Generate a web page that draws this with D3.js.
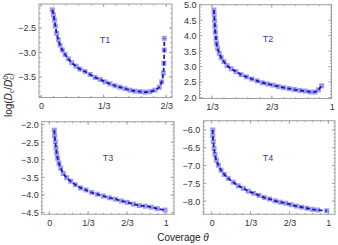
<!DOCTYPE html>
<html>
<head>
<meta charset="utf-8">
<script src="https://cdn.jsdelivr.net/npm/d3@7"></script>
<style>
  body { margin: 0; background: #fff; }
  svg { display: block; font-family: "Liberation Sans", Arial, sans-serif; }
</style>
</head>
<body>
<div id="chart"></div>
<script>
// coverage values and log(Dc/Dc0) for each panel
var t1X = [0.060, 0.066, 0.071, 0.076, 0.083, 0.092, 0.101, 0.113, 0.128, 0.145, 0.163, 0.186, 0.207, 0.234, 0.261, 0.287, 0.314, 0.340, 0.367, 0.394, 0.420, 0.447, 0.473, 0.500, 0.527, 0.553, 0.580, 0.606, 0.629, 0.642, 0.651, 0.654, 0.656, 0.656];
var t1Y = [-2.13, -2.23, -2.34, -2.46, -2.61, -2.74, -2.85, -2.95, -3.04, -3.13, -3.21, -3.28, -3.34, -3.39, -3.45, -3.51, -3.55, -3.60, -3.64, -3.68, -3.71, -3.74, -3.77, -3.79, -3.80, -3.81, -3.80, -3.77, -3.71, -3.60, -3.42, -3.22, -2.95, -2.71];

var t2X = [0.344, 0.346, 0.348, 0.350, 0.352, 0.356, 0.359, 0.365, 0.374, 0.385, 0.400, 0.418, 0.441, 0.467, 0.496, 0.526, 0.556, 0.585, 0.614, 0.644, 0.674, 0.703, 0.733, 0.763, 0.792, 0.822, 0.852, 0.881, 0.907, 0.926, 0.944];
var t2Y = [4.83, 4.67, 4.48, 4.29, 4.11, 3.92, 3.75, 3.59, 3.43, 3.29, 3.16, 3.03, 2.93, 2.84, 2.74, 2.67, 2.60, 2.54, 2.48, 2.44, 2.40, 2.36, 2.32, 2.29, 2.26, 2.23, 2.21, 2.18, 2.18, 2.25, 2.38];

var t3X = [0.043, 0.046, 0.052, 0.058, 0.064, 0.072, 0.083, 0.098, 0.120, 0.149, 0.184, 0.224, 0.269, 0.315, 0.364, 0.412, 0.464, 0.515, 0.567, 0.619, 0.670, 0.722, 0.773, 0.825, 0.876, 0.928, 0.994];
var t3Y = [-2.16, -2.32, -2.49, -2.66, -2.82, -2.96, -3.10, -3.24, -3.39, -3.51, -3.61, -3.71, -3.80, -3.86, -3.93, -3.98, -4.03, -4.08, -4.12, -4.17, -4.21, -4.26, -4.30, -4.32, -4.35, -4.39, -4.43];

var t4X = [0.009, 0.009, 0.014, 0.020, 0.028, 0.040, 0.057, 0.080, 0.108, 0.142, 0.185, 0.228, 0.271, 0.314, 0.360, 0.406, 0.451, 0.497, 0.543, 0.588, 0.635, 0.680, 0.726, 0.772, 0.817, 0.863, 0.909, 0.986];
var t4Y = [-6.00, -6.16, -6.33, -6.52, -6.69, -6.85, -6.99, -7.13, -7.25, -7.36, -7.47, -7.57, -7.64, -7.72, -7.78, -7.84, -7.90, -7.94, -7.99, -8.03, -8.06, -8.10, -8.14, -8.17, -8.20, -8.23, -8.25, -8.27];

var xTicksT1 = [0, 1/3, 2/3];
var xTicksT2 = [1/3, 2/3, 1];
var xTicksAll = [0, 1/3, 2/3, 1];
var xTickNames = {"0": "0", "0.333": "1/3", "0.667": "2/3", "1": "1"};
var yTicksT1 = [-2.5, -3.0, -3.5];
var yTicksT2 = [2.0, 2.5, 3.0, 3.5, 4.0, 4.5, 5.0];
var yTicksT3 = [-2.0, -2.5, -3.0, -3.5, -4.0, -4.5];
var yTicksT4 = [-6.0, -6.5, -7.0, -7.5, -8.0];
var panelNames = ["T1", "T2", "T3", "T4"];

var width = 338, height = 245;
var frameColor = "#a0a0a0";
var markerColor = "rgba(120,120,250,0.75)";
var lineColor = "#1a1a9a";

var svg = d3.select("#chart").append("svg")
    .attr("width", width)
    .attr("height", height);

function fmtX(v) {
    var k = (Math.round(v * 1000) / 1000).toString();
    return xTickNames[k] || k;
}
function fmtY(v) {
    return d3.format(".1f")(v).replace("-", "\u2212");
}
function minorsBetween(ticks, n, dom) {
    var step = (ticks[1] - ticks[0]) / (n + 1);
    var out = [];
    var lo = Math.min(dom[0], dom[1]), hi = Math.max(dom[0], dom[1]);
    for (var v = ticks[0] - step * 20; v <= hi; v += step) {
        if (v >= lo && v <= hi) out.push(v);
    }
    return out;
}

function drawPanel(p) {
    var x = d3.scaleLinear().domain(p.xDom).range([p.left, p.right]);
    var y = d3.scaleLinear().domain(p.yDom).range([p.bottom, p.top]);
    var g = svg.append("g");

    // frame
    g.append("rect")
        .attr("x", p.left).attr("y", p.top)
        .attr("width", p.right - p.left).attr("height", p.bottom - p.top)
        .attr("fill", "none").attr("stroke", frameColor).attr("stroke-width", 1);

    // minor ticks
    var xMin = minorsBetween(p.xTicks, 4, p.xDom);
    var yMin = minorsBetween(p.yTicks.slice().sort(d3.ascending), 4, p.yDom);
    xMin.forEach(function (v) {
        g.append("line").attr("x1", x(v)).attr("x2", x(v)).attr("y1", p.bottom).attr("y2", p.bottom - 1.5).attr("stroke", frameColor);
        g.append("line").attr("x1", x(v)).attr("x2", x(v)).attr("y1", p.top).attr("y2", p.top + 1.5).attr("stroke", frameColor);
    });
    yMin.forEach(function (v) {
        g.append("line").attr("x1", p.left).attr("x2", p.left + 1.5).attr("y1", y(v)).attr("y2", y(v)).attr("stroke", frameColor);
        g.append("line").attr("x1", p.right).attr("x2", p.right - 1.5).attr("y1", y(v)).attr("y2", y(v)).attr("stroke", frameColor);
    });

    // bottom axis
    var bottomAxis = d3.axisBottom(x).tickValues(p.xTicks).tickSize(0).tickPadding(5).tickFormat(fmtX);
    var ba = g.append("g").attr("transform", "translate(0," + p.bottom + ")").call(bottomAxis);
    ba.select(".domain").remove();
    ba.selectAll("text").attr("fill", "#333").style("font-size", "9px");
    p.xTicks.forEach(function (v) {
        g.append("line").attr("x1", x(v)).attr("x2", x(v)).attr("y1", p.bottom).attr("y2", p.bottom - 3).attr("stroke", frameColor);
        g.append("line").attr("x1", x(v)).attr("x2", x(v)).attr("y1", p.top).attr("y2", p.top + 3).attr("stroke", frameColor);
    });

    // left axis
    var leftAxis = d3.axisLeft(y).tickValues(p.yTicks).tickSize(0).tickPadding(3).tickFormat(fmtY);
    var la = g.append("g").attr("transform", "translate(" + p.left + ",0)").call(leftAxis);
    la.select(".domain").remove();
    la.selectAll("text").attr("fill", "#333").style("font-size", "9px");
    p.yTicks.forEach(function (v) {
        g.append("line").attr("x1", p.left).attr("x2", p.left + 3).attr("y1", y(v)).attr("y2", y(v)).attr("stroke", frameColor);
        g.append("line").attr("x1", p.right).attr("x2", p.right - 3).attr("y1", y(v)).attr("y2", y(v)).attr("stroke", frameColor);
    });

    var pts = p.xs.map(function (v, i) { return [v, p.ys[i]]; });

    // markers
    g.selectAll(".pt").data(pts).enter().append("rect")
        .attr("class", "pt")
        .attr("x", function (d) { return x(d[0]) - 2.5; })
        .attr("y", function (d) { return y(d[1]) - 2.5; })
        .attr("width", 5).attr("height", 5)
        .attr("fill", markerColor);

    // dashed line
    var line = d3.line()
        .x(function (d) { return x(d[0]); })
        .y(function (d) { return y(d[1]); })
        .curve(d3.curveMonotoneX);
    g.append("path")
        .datum(pts)
        .attr("d", d3.line().x(function (d) { return x(d[0]); }).y(function (d) { return y(d[1]); }).curve(d3.curveCatmullRom))
        .attr("fill", "none")
        .attr("stroke", lineColor)
        .attr("stroke-width", 1.8)
        .attr("stroke-dasharray", "4,2.5");

    g.append("text")
        .attr("x", p.labelX).attr("y", p.labelY)
        .attr("text-anchor", "middle")
        .attr("fill", "#3a3aa8")
        .style("font-size", "9px")
        .text(p.name);
}

var panels = [
    { name: panelNames[0], xs: t1X, ys: t1Y, xTicks: xTicksT1, yTicks: yTicksT1,
      left: 39, right: 172, top: 4, bottom: 97.5, xDom: [-0.011, 0.697], yDom: [-3.92, -2.01], labelX: 105, labelY: 43 },
    { name: panelNames[1], xs: t2X, ys: t2Y, xTicks: xTicksT2, yTicks: yTicksT2,
      left: 199.5, right: 331.5, top: 4.7, bottom: 98.5, xDom: [0.264, 0.999], yDom: [1.97, 5.0], labelX: 268, labelY: 42 },
    { name: panelNames[2], xs: t3X, ys: t3Y, xTicks: xTicksAll, yTicks: yTicksT3,
      left: 41.7, right: 174, top: 121.7, bottom: 214.3, xDom: [-0.065, 1.071], yDom: [-4.55, -1.92], labelX: 108, labelY: 161 },
    { name: panelNames[3], xs: t4X, ys: t4Y, xTicks: xTicksAll, yTicks: yTicksT4,
      left: 203.3, right: 335, top: 120.7, bottom: 214.3, xDom: [-0.072, 1.057], yDom: [-8.37, -5.74], labelX: 268, labelY: 161 }
];

panels.forEach(drawPanel);

// axis titles
var yTitle = svg.append("text")
    .attr("transform", "translate(12,95) rotate(-90)")
    .attr("text-anchor", "middle")
    .attr("fill", "#222")
    .style("font-size", "10px");
yTitle.append("tspan").text("log(");
yTitle.append("tspan").attr("font-style", "italic").text("D");
yTitle.append("tspan").attr("font-size", "7px").attr("dy", 2).text("c");
yTitle.append("tspan").attr("dy", -2).text("/");
yTitle.append("tspan").attr("font-style", "italic").text("D");
yTitle.append("tspan").attr("font-size", "7px").attr("dy", -4).text("0");
yTitle.append("tspan").attr("font-size", "7px").attr("dx", -4).attr("dy", 6).text("c");
yTitle.append("tspan").attr("dy", -2).text(")");

var xTitle = svg.append("text")
    .attr("x", 183).attr("y", 241)
    .attr("text-anchor", "middle")
    .attr("fill", "#222")
    .style("font-size", "10px");
xTitle.append("tspan").text("Coverage ");
xTitle.append("tspan").attr("font-style", "italic").text("\u03b8");
</script>
</body>
</html>
